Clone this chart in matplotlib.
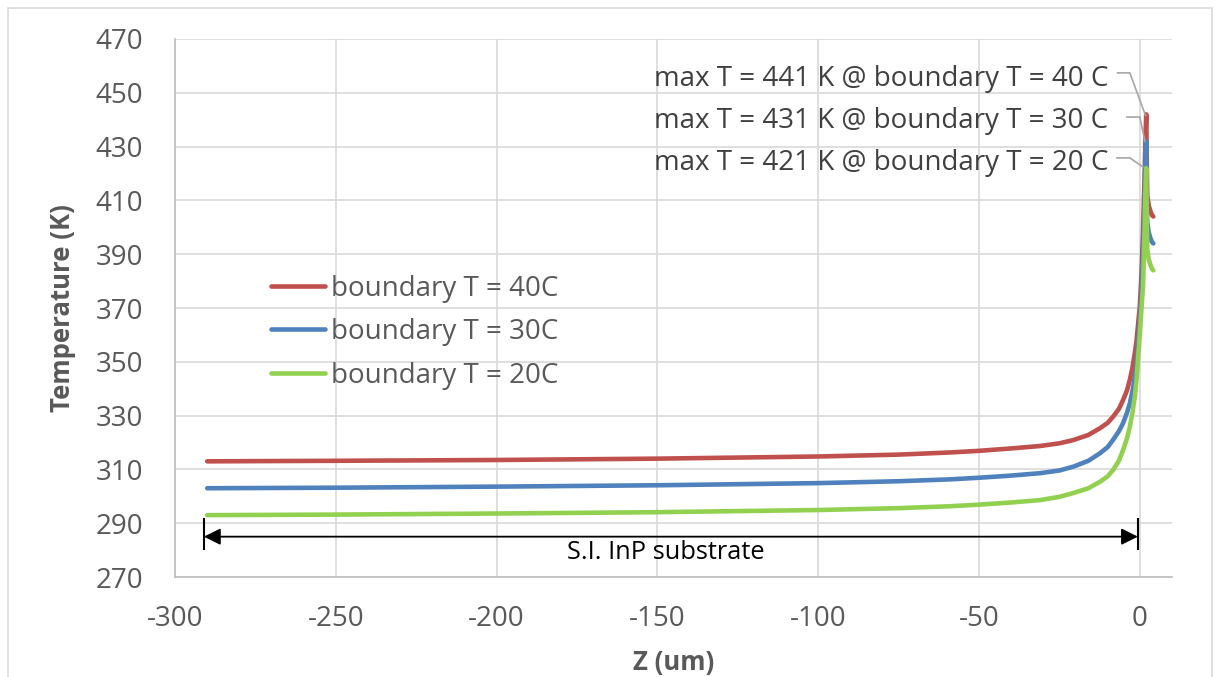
import numpy as np
import matplotlib.pyplot as plt
from matplotlib.patches import Rectangle

# depth through the substrate (um), shared by all three runs
z = [-290, -250, -200, -150, -100, -75, -59, -50, -40, -31, -25, -20.7, -16,
     -12.4, -10, -8.3, -6.5, -5.2, -4, -3.1, -2.3, -1.55, -1, -0.5, 0, 0.5,
     1, 1.5, 1.8, 2.0, 2.3, 2.8, 3.3, 3.8, 4.2]

# temperature profiles (K) for each boundary temperature
t_40 = [313.0, 313.2, 313.5, 314.0, 314.8, 315.5, 316.3, 316.9, 317.8, 318.7,
        319.7, 320.9, 322.8, 325.3, 327.3, 329.6, 332.5, 335.8, 339.3, 343.3,
        347.8, 353.2, 358.0, 364.4, 370.6, 382.0, 398.0, 420.0, 435.0, 442.0,
        412.0, 408.0, 406.0, 404.5, 404.0]
t_30 = [303.0, 303.2, 303.6, 304.1, 304.9, 305.6, 306.3, 306.9, 307.7, 308.6,
        309.6, 311.0, 313.2, 316.0, 318.3, 321.0, 324.2, 327.2, 331.0, 334.6,
        339.0, 344.6, 349.5, 357.0, 365.0, 374.0, 390.0, 410.0, 426.0, 432.0,
        402.0, 398.0, 396.0, 394.5, 394.0]
t_20 = [293.0, 293.2, 293.6, 294.1, 294.9, 295.6, 296.3, 296.9, 297.7, 298.6,
        299.8, 301.2, 303.0, 305.4, 307.4, 309.8, 313.2, 317.2, 321.5, 325.9,
        331.0, 337.1, 343.5, 352.0, 360.0, 369.4, 378.0, 400.0, 416.0, 422.0,
        392.0, 388.0, 386.0, 384.5, 384.0]

labels = ['boundary T = 40C', 'boundary T = 30C', 'boundary T = 20C']
colors = ['#C0504D', '#4F81BD', '#92D050']
max_notes = ['max T = 441 K @ boundary T = 40 C',
             'max T = 431 K @ boundary T = 30 C',
             'max T = 421 K @ boundary T = 20 C']

plt.rcParams['font.family'] = ['Open Sans', 'DejaVu Sans']
plt.rcParams['axes.unicode_minus'] = False
gray = '#595959'
grid_c = '#D9D9D9'

fig = plt.figure(figsize=(12.18, 6.77), dpi=100)
ax = fig.add_axes([0.1437, 0.1477, 0.8185, 0.7947])

# outer chart border
fig.patches.append(Rectangle((8 / 1218, -0.05), 1204 / 1218, 1.05 - 8 / 677,
                             transform=fig.transFigure, fill=False,
                             edgecolor=grid_c, lw=1.2))

for t, c, lab in zip([t_40, t_30, t_20], colors, labels):
    ax.plot(z, t, color=c, lw=3.3, label=lab, solid_capstyle='round',
            solid_joinstyle='round')

ax.set_xlim(-300, 10)
ax.set_ylim(270, 470)
ax.set_xticks(np.arange(-300, 1, 50))
ax.set_yticks(np.arange(270, 471, 20))
ax.grid(True, color=grid_c, lw=1.2)
ax.set_axisbelow(True)
for s in ['top', 'right']:
    ax.spines[s].set_visible(False)
for s in ['left', 'bottom']:
    ax.spines[s].set_color('#BFBFBF')
    ax.spines[s].set_linewidth(1.2)
ax.tick_params(axis='both', length=0, labelsize=20, labelcolor=gray)
ax.tick_params(axis='y', pad=23)
ax.tick_params(axis='x', pad=20)

ax.set_xlabel('Z (um)', fontsize=18.5, fontweight='bold', color=gray,
              labelpad=12)
ax.set_ylabel('Temperature (K)', fontsize=18.5, fontweight='bold', color=gray,
              labelpad=14)

# max temperature callouts: text y, leader start/end x, leader y, tip
note_y = [455.0, 439.5, 424.0]
lead_x = [(-6.9, -3.1), (-4.0, 0.0), (-7.1, -3.1)]
lead_y = [457.4, 441.0, 425.8]
tips = [(1.8, 441.5), (1.6, 432.0), (1.0, 422.4)]
for note, ny, lx, ly, tip in zip(max_notes, note_y, lead_x, lead_y, tips):
    ax.text(-9.9, ny, note, ha='right', va='center', fontsize=20,
            color='#404040')
    ax.plot([lx[0], lx[1], tip[0]], [ly, ly, tip[1]], color='#A6A6A6', lw=1.2)

# substrate extent arrow
ax.annotate('', xy=(-291, 285), xytext=(-0.6, 285),
            arrowprops=dict(arrowstyle='<|-|>', color='black', lw=1.3,
                            mutation_scale=25, shrinkA=0, shrinkB=0))
ax.plot([-291, -291], [280.4, 291.5], color='black', lw=1.5)
ax.plot([-0.6, -0.6], [280.4, 291.5], color='black', lw=1.5)
ax.text(-147.5, 279, 'S.I. InP substrate', ha='center', va='center',
        fontsize=18.3, color='black')

leg = ax.legend(loc='center left', bbox_to_anchor=(0.071, 0.455),
                frameon=False, fontsize=20, handlelength=1.95,
                handletextpad=0.2, labelspacing=0.56, labelcolor=gray)

fig.savefig('out.png', dpi=100)
